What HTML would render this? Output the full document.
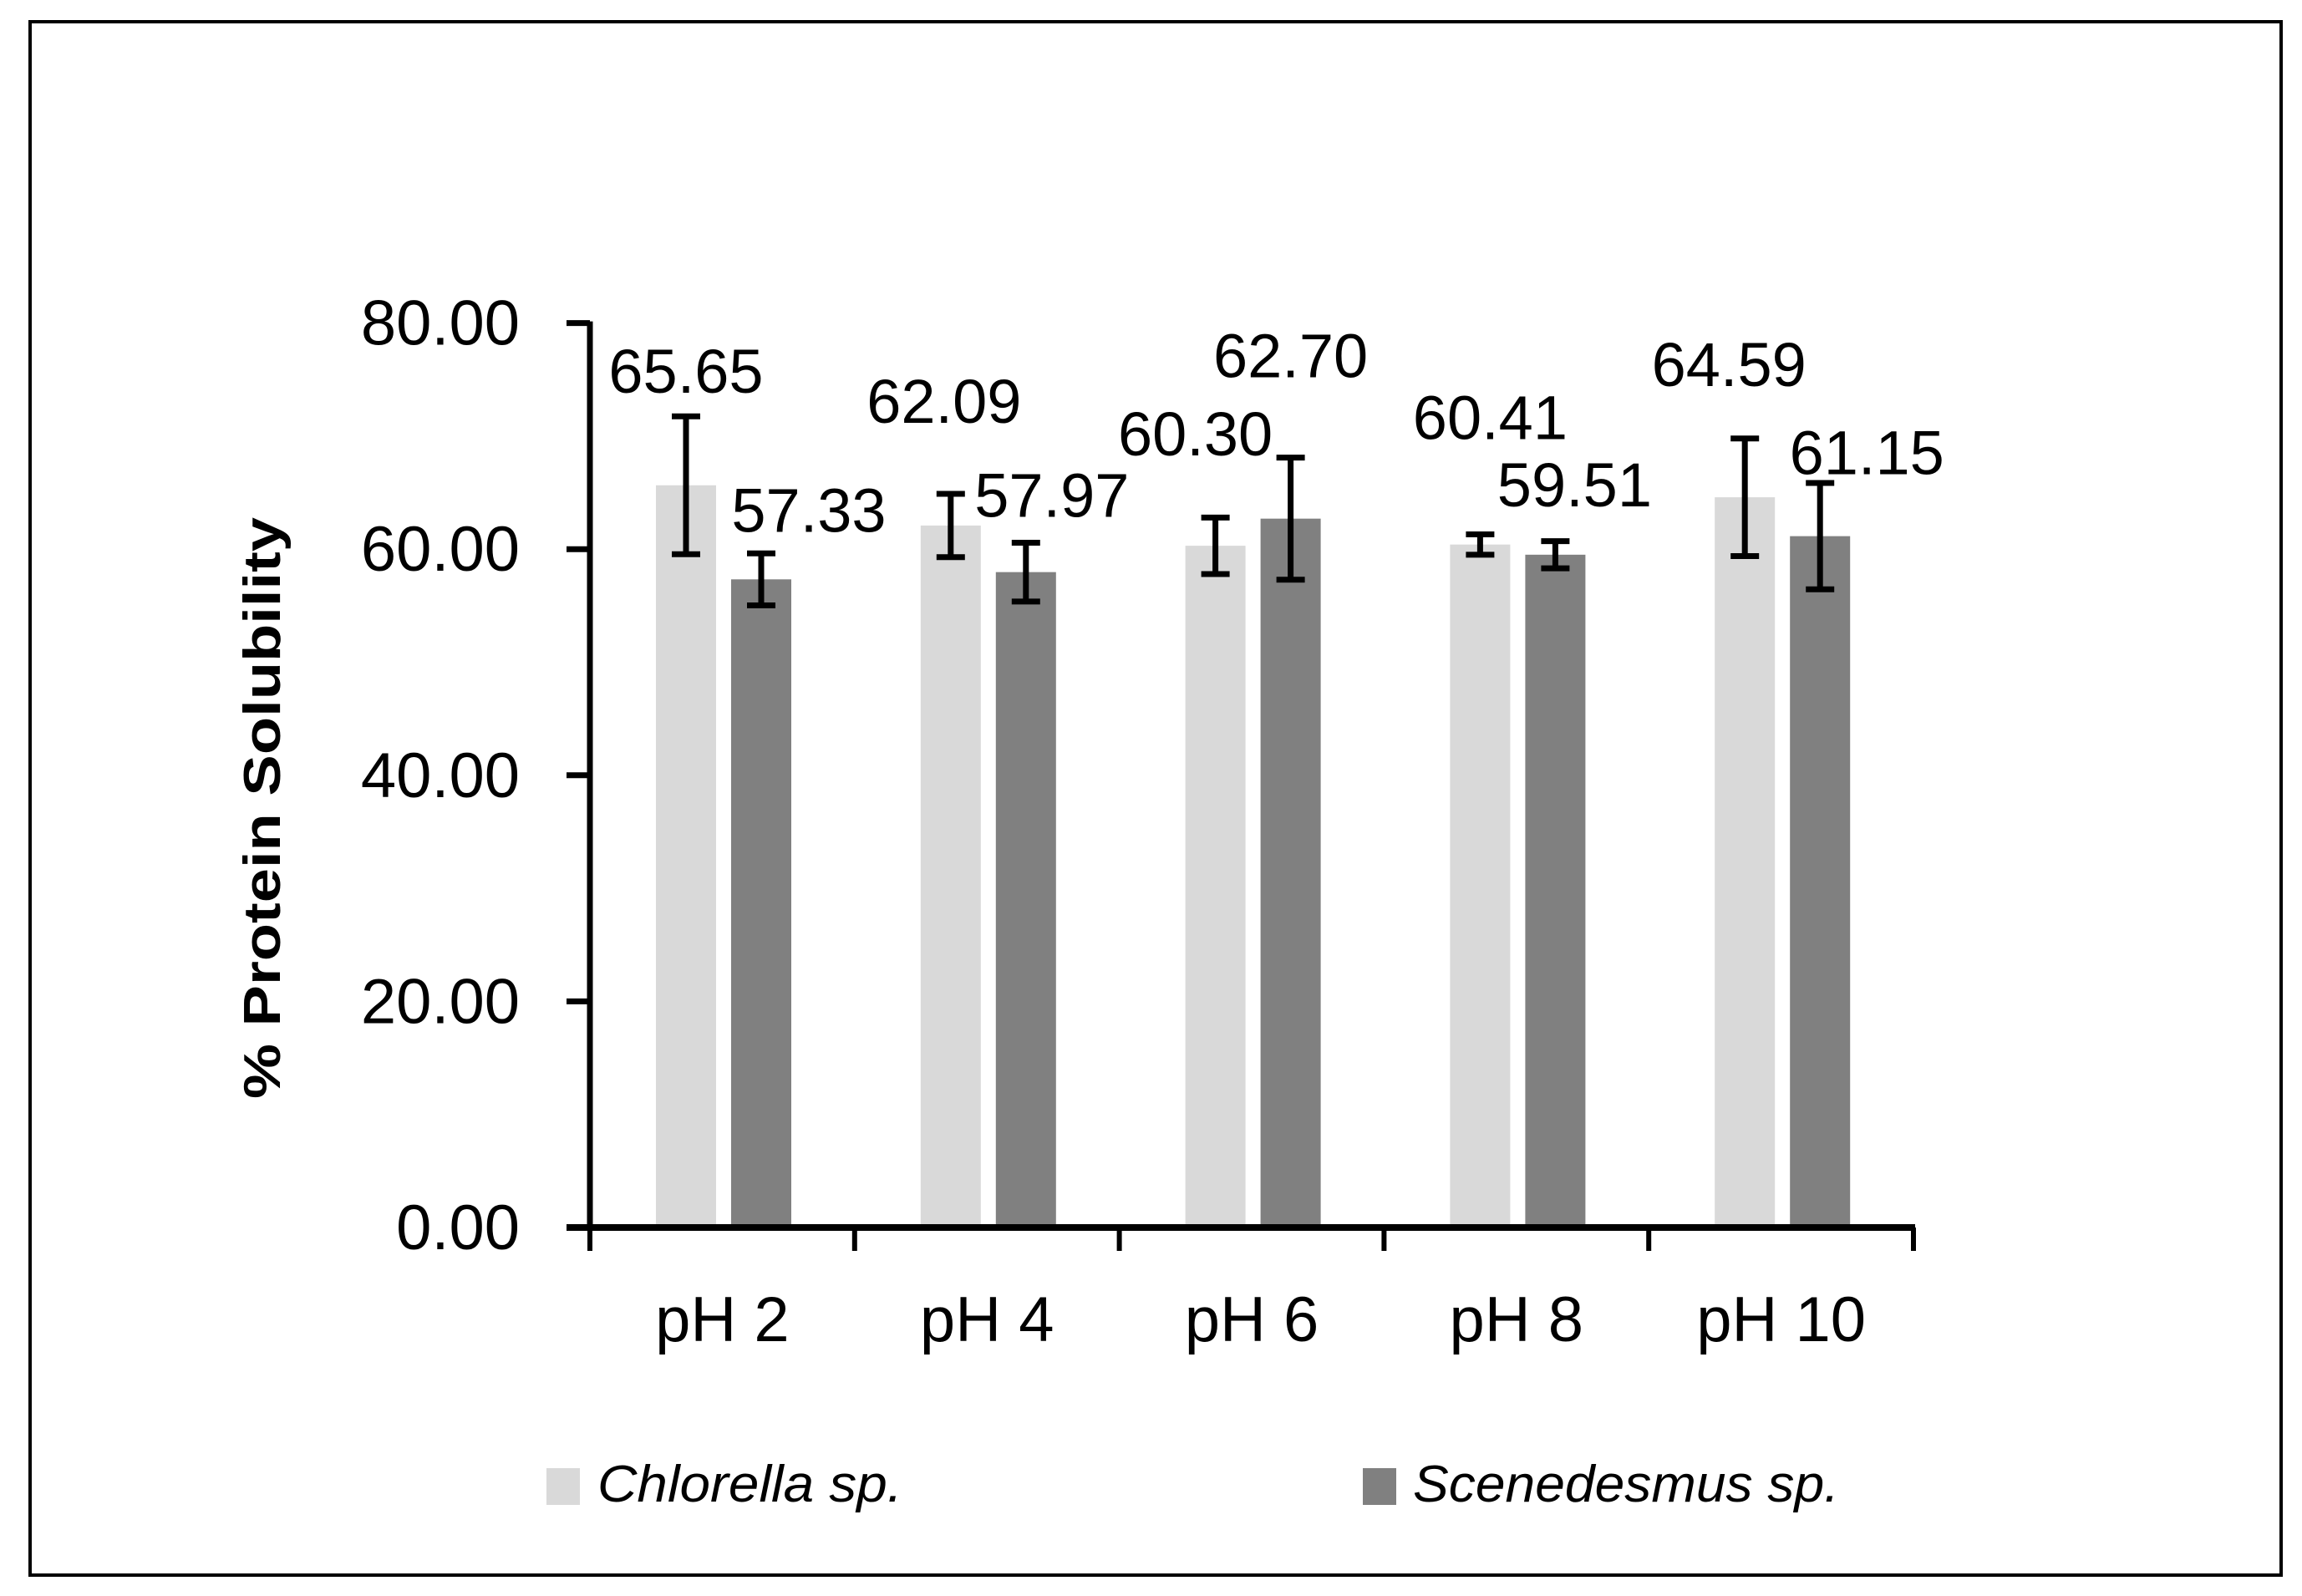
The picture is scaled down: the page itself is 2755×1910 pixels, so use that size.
<!DOCTYPE html>
<html><head><meta charset="utf-8"><style>
html,body{margin:0;padding:0;background:#fff;}
svg{display:block;font-family:"Liberation Sans",sans-serif;}
</style></head><body>
<svg id="chart" width="2755" height="1910" viewBox="0 0 2755 1910" xmlns="http://www.w3.org/2000/svg">
<rect x="36" y="26" width="2694" height="1859" fill="#fff" stroke="#000" stroke-width="4"/>
<text transform="translate(335,967) rotate(-90)" text-anchor="middle" font-size="62" font-weight="bold" textLength="696" lengthAdjust="spacingAndGlyphs">% Protein Solubility</text>
<g id="plot"></g>
<g>
<rect x="654" y="1757" width="40" height="44" fill="#d9d9d9"/>
<text x="715" y="1797" font-size="62" font-style="italic" textLength="365" lengthAdjust="spacingAndGlyphs">Chlorella sp.</text>
<rect x="1631" y="1757" width="40" height="44" fill="#808080"/>
<text x="1691" y="1797" font-size="62" font-style="italic" textLength="510" lengthAdjust="spacingAndGlyphs">Scenedesmus sp.</text>
</g>
<script>
const categories = ["pH 2","pH 4","pH 6","pH 8","pH 10"];
const chlorella = [65.65, 62.09, 60.30, 60.41, 64.59];
const scenedesmus = [57.33, 57.97, 62.70, 59.51, 61.15];
const chlorellaErr = [6.1, 2.8, 2.5, 0.9, 5.2];
const scenedesmusErr = [2.3, 2.6, 5.4, 1.2, 4.7];
const yTicks = [0, 20, 40, 60, 80];
const yTickLabels = ["0.00","20.00","40.00","60.00","80.00"];
// label layout offsets (pixels), not data
const labelDx = [[0,57],[-8,31],[-24,0],[12,23],[-19,56]];
const labelDy = [[-111,-57],[-123,-66],[-108,-169],[-126,-58],[-133,-74]];

const NS = "http://www.w3.org/2000/svg";
const X0 = 706, X1 = 2290, Y0 = 1469, YTOP = 386.6, YMAX = 80;
const catW = (X1 - X0) / categories.length;
const yScale = v => Y0 - (v / YMAX) * (Y0 - YTOP);
const xCat = i => X0 + i * catW;
const plot = document.getElementById('plot');
function mk(tag, attrs, parent) {
  const e = document.createElementNS(NS, tag);
  for (const k in attrs) e.setAttribute(k, attrs[k]);
  (parent || plot).appendChild(e);
  return e;
}
const series = [
  {vals: chlorella, errs: chlorellaErr, color: "#d9d9d9", off: 79, name: "chlorella"},
  {vals: scenedesmus, errs: scenedesmusErr, color: "#808080", off: 169, name: "scenedesmus"}
];
const barW = 72;
series.forEach((s, si) => {
  s.vals.forEach((v, i) => {
    const x = xCat(i) + s.off;
    const b = mk('rect', {x: x, y: yScale(v), width: barW, height: Y0 - yScale(v), fill: s.color});
    
    
    const cx = x + barW / 2;
    const top = yScale(v + s.errs[i]), bot = yScale(v - s.errs[i]);
    const eb = mk('path', {d: `M${cx},${top}V${bot}M${cx-17},${top}H${cx+17}M${cx-17},${bot}H${cx+17}`, stroke: "#000", "stroke-width": 7, fill: "none"});
    
    
    const t = mk('text', {x: cx + labelDx[i][si], y: yScale(v) + labelDy[i][si], "text-anchor": "middle", "font-size": 74});
    t.textContent = v.toFixed(2);
    
    
  });
});
// axes
const ya = mk('line', {x1: X0, y1: YTOP - 2, x2: X0, y2: Y0, stroke: "#000", "stroke-width": 7});


const xa = mk('line', {x1: X0 - 28, y1: Y0, x2: X1 + 2, y2: Y0, stroke: "#000", "stroke-width": 8});


yTicks.forEach((v, i) => {
  const y = yScale(v);
  const tk = mk('line', {x1: X0 - 28, y1: y, x2: X0, y2: y, stroke: "#000", "stroke-width": 7});
  
  
  const t = mk('text', {x: 622, y: y + 26, "text-anchor": "end", "font-size": 76});
  t.textContent = yTickLabels[i];
  
  
});
for (let i = 0; i <= categories.length; i++) {
  const tk = mk('line', {x1: xCat(i), y1: Y0, x2: xCat(i), y2: Y0 + 28, stroke: "#000", "stroke-width": 6});
  
  
}
categories.forEach((c, i) => {
  const t = mk('text', {x: xCat(i) + catW / 2, y: 1605, "text-anchor": "middle", "font-size": 76});
  t.textContent = c;
  
  
});
</script>
</svg>
</body></html>
